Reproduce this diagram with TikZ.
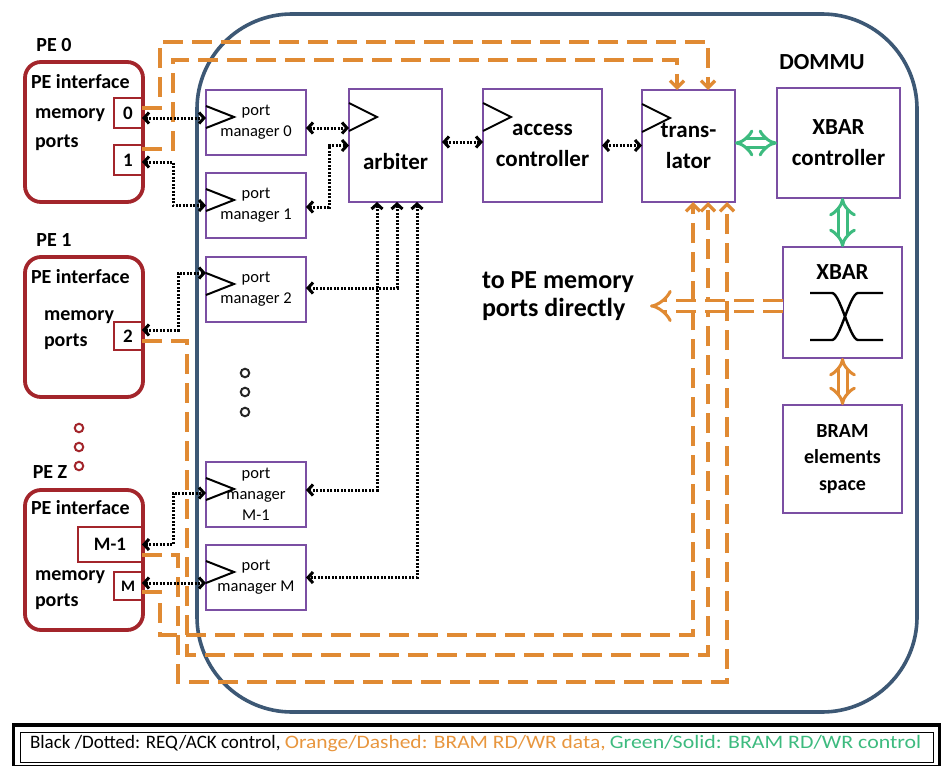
\documentclass[tikz,border=0pt]{standalone}
\usepackage{fontspec}
\setmainfont{Carlito}
\usetikzlibrary{arrows.meta,calc}
\definecolor{dommublue}{HTML}{3D5875}
\definecolor{pered}{HTML}{A3252B}
\definecolor{boxpurple}{HTML}{7B4FA3}
\definecolor{dataorange}{HTML}{E08A33}
\definecolor{legorange}{HTML}{E8963E}
\definecolor{ctrlgreen}{HTML}{3DBB7F}
\begin{document}
\begin{tikzpicture}[x=1pt,y=-1pt,
  every node/.style={outer sep=0pt, inner sep=0pt},
  pebox/.style={draw=pered, line width=3.8pt, rounded corners=16pt, minimum width=118pt, minimum height=140pt},
  portbox/.style={draw=pered, line width=2.4pt, fill=white, font=\fontsize{19}{22}\selectfont\bfseries},
  blk/.style={draw=boxpurple, line width=2.4pt, fill=white},
  pmbox/.style={blk, minimum width=100pt, minimum height=65pt, align=center, font=\fontsize{16.5}{21}\selectfont},
  bigtxt/.style={align=center, font=\fontsize{23}{31}\selectfont\bfseries},
  midtxt/.style={align=center, font=\fontsize{20}{26.5}\selectfont\bfseries},
  petxt/.style={font=\fontsize{20}{24}\selectfont\bfseries},
  tri/.style={draw=black, line width=2pt, line join=miter},
  ctl/.style={draw=black, line width=3pt, dash pattern=on 2pt off 1.5pt, >={Straight Barb[length=5pt,width=11pt]}, <->},
  data/.style={draw=dataorange, line width=3.3pt, dash pattern=on 20pt off 9pt, >={Straight Barb[length=7pt,width=14pt]}, ->},
  gdbl/.style={draw=ctrlgreen, line width=3pt, double=white, double distance=6pt, arrows={Implies-Implies}},
  odbl/.style={draw=dataorange, line width=3pt, double=white, double distance=6pt, arrows={Implies-Implies}},
  odash/.style={draw=dataorange, line width=3pt, double=white, double distance=8pt, dash pattern=on 20pt off 9pt, arrows={-Implies}},
  dotc/.style={circle, draw, line width=2pt, minimum size=8.5pt}
]
\useasboundingbox (0,0) rectangle (949,765);
\fill[white] (0,0) rectangle (949,765);

% DOMMU
\node[draw=dommublue, line width=3.6pt, rounded corners=95pt, minimum width=720pt, minimum height=698pt] (dommu) at (557,363) {};
\node[bigtxt] (dommulbl) at (822,62) {DOMMU};

% PE boxes
\node[petxt] (pe0lbl) at (54,45) {PE 0};
\node[pebox] (pe0) at (84,132) {};
\node[petxt, anchor=west] (pe0if) at (31,82) {PE interface};
\node[petxt, anchor=west] (pe0mem) at (35,115) {memory};
\node[petxt, anchor=west] (pe0pts) at (35,143) {ports};
\node[portbox, minimum width=28pt, minimum height=30pt] (p0) at (128,113) {0};
\node[portbox, minimum width=28pt, minimum height=30pt] (p1) at (128,160) {1};

\node[petxt] (pe1lbl) at (54,240) {PE 1};
\node[pebox] (pe1) at (84,327) {};
\node[petxt, anchor=west] (pe1if) at (31,277) {PE interface};
\node[petxt, anchor=west] (pe1mem) at (44,317) {memory};
\node[petxt, anchor=west] (pe1pts) at (44,342) {ports};
\node[portbox, minimum width=28pt, minimum height=28pt] (p2) at (128,336) {2};

\node[dotc, draw=pered] (rd1) at (79,428) {};
\node[dotc, draw=pered] (rd2) at (79,447) {};
\node[dotc, draw=pered] (rd3) at (79,466) {};

\node[petxt] (pezlbl) at (50,472) {PE Z};
\node[pebox] (pez) at (84,560) {};
\node[petxt, anchor=west] (pezif) at (31,508) {PE interface};
\node[petxt, anchor=west] (pezmem) at (35,577) {memory};
\node[petxt, anchor=west] (pezpts) at (35,602) {ports};
\node[portbox, minimum width=64pt, minimum height=35pt] (pM1) at (110,544.5) {M-1};
\node[portbox, minimum width=28pt, minimum height=28pt, font=\fontsize{16}{20}\selectfont\bfseries] (pM) at (128,586) {M};

% port managers
\node[pmbox] (pm0) at (256,122.5) {port\\manager 0};
\node[pmbox] (pm1) at (256,205.5) {port\\manager 1};
\node[pmbox] (pm2) at (256,289.5) {port\\manager 2};
\node[pmbox] (pmM1) at (256,494.5) {port\\manager\\M-1};
\node[pmbox] (pmM) at (256,577.5) {port\\manager M};
\foreach \n in {pm0,pm1,pm2,pmM1,pmM}{
  \draw[tri] ($(\n.north west)+(0,16)$) -- ++(28,11) -- ++(-28,11);
}
\node[dotc, draw=black!85] (bd1) at (245,373) {};
\node[dotc, draw=black!85] (bd2) at (245,392) {};
\node[dotc, draw=black!85] (bd3) at (245,412) {};

% main blocks
\node[blk, minimum width=93pt, minimum height=113pt] (arb) at (395.5,145.5) {};
\node[bigtxt] (arbtxt) at (395.5,162) {arbiter};
\node[blk, minimum width=119pt, minimum height=113pt, bigtxt] (acc) at (542.5,145.5) {access\\controller};
\node[blk, minimum width=93pt, minimum height=112pt, bigtxt] (trans) at (688.5,146) {trans-\\lator};
\node[blk, minimum width=123pt, minimum height=110pt, bigtxt] (xctrl) at (838.5,143) {XBAR\\controller};
\node[blk, minimum width=119pt, minimum height=111pt] (xbar) at (842.5,302.5) {};
\node[bigtxt] (xbartxt) at (842.5,272) {XBAR};
\node[blk, minimum width=119pt, minimum height=108pt, midtxt] (bram) at (842.5,459) {BRAM\\elements\\space};
\foreach \n in {arb,acc,trans}{
  \draw[tri] ($(\n.north west)+(0,14)$) -- ++(28,14) -- ++(-28,14);
}
% crossbar symbol
\draw[line width=2.4pt] (810,293) -- (832,293) .. controls (840,293) and (850,340) .. (858,340) -- (883,340);
\draw[line width=2.4pt] (810,340) -- (832,340) .. controls (840,340) and (850,293) .. (858,293) -- (883,293);

% text to PE
\node[align=left, anchor=west, font=\fontsize{26}{28.5}\selectfont\bfseries] (topetxt) at (482,296) {to PE memory\\ports directly};
\coordinate (topeend) at (650,306);

% orange data paths
\draw[data] ([yshift=5pt]p0.east) -- ++(18,0) -- ++(0,-66) -| ([xshift=19.5pt]trans.north);
\draw[data] ([yshift=11pt]p1.east) -- ++(31,0) -- ++(0,-89) -| ([xshift=-11.5pt]trans.north);
\draw[data] ([yshift=-5pt]p2.east) -- ++(45,0) -- ++(0,314) -| ([xshift=19.5pt]trans.south);
\draw[data] ([yshift=-10.5pt]pM1.east) -- ++(36,0) -- ++(0,127) -| ([xshift=38.5pt]trans.south);
\draw[data] ([yshift=-6pt]pM.east) -- ++(18,0) -- ++(0,43) -| ([xshift=4.5pt]trans.south);
\draw[odash] (xbar.west |- topeend) -- (topeend);
\draw[odbl] (xbar.south) -- (xbar.south |- bram.north);

% green control
\draw[gdbl] (trans.east |- xctrl.west) -- (xctrl.west);
\draw[gdbl] (xbar.north |- xctrl.south) -- (xbar.north);

% black req/ack
\draw[ctl] ([yshift=-5pt]p0.east) -- ([yshift=-5pt]p0.east -| pm0.west);
\draw[ctl] ([yshift=-2pt]p1.east) -- ++(31,0) |- (pm1.west);
\draw[ctl] ([yshift=6pt]p2.east) -- ++(36,0) |- ([yshift=16.5pt]pm2.west);
\draw[ctl] (pM1.east) -- ++(31,0) |- ([yshift=1.5pt]pmM1.west);
\draw[ctl] ([yshift=3pt]pM.east) -- ([yshift=3pt]pM.east -| pmM.west);
\draw[ctl] ([yshift=-5.5pt]pm0.east) -- ([yshift=-5.5pt]pm0.east -| arb.west);
\draw[ctl] ([yshift=-1.5pt]pm1.east) -- ++(23,0) |- (arb.west);
\draw[ctl] ([xshift=-18.5pt]arb.south) |- ([yshift=4.5pt]pmM1.east);
\draw[ctl] ([xshift=1.5pt]arb.south) |- ([yshift=1.5pt]pm2.east);
\draw[ctl] ([xshift=21.5pt]arb.south) |- (pmM.east);
\draw[ctl] ([yshift=3.5pt]arb.east) -- ([yshift=3.5pt]arb.east -| acc.west);
\draw[ctl] (acc.east) -- (acc.east -| trans.west);

% legend
\node[draw=black, line width=3.5pt, minimum width=926pt, minimum height=42pt] (legbox) at (476.5,746) {};
\node[draw=black, line width=1pt, minimum width=913pt, minimum height=30pt] (leginner) at (476.5,747) {};
\node[anchor=west, font=\fontsize{19}{22}\selectfont] (legend) at (30,744) {Black /Dotted: REQ/ACK control, \textcolor{legorange}{\scalebox{1.13}[1]{Orange/Dashed: BRAM RD/WR data,}} \textcolor{ctrlgreen}{\scalebox{1.15}[1]{Green/Solid: BRAM RD/WR control}}};
\end{tikzpicture}
\end{document}
